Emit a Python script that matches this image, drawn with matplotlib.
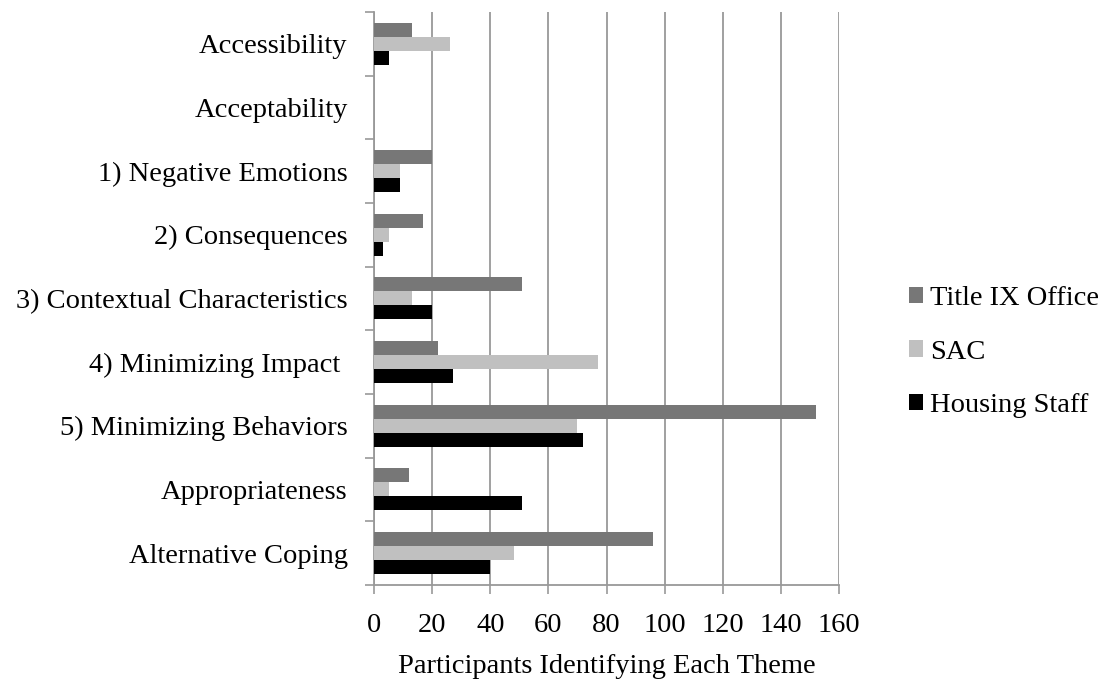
import numpy as np
import matplotlib.pyplot as plt
from matplotlib.patches import Patch

plt.rcParams['font.family'] = ['Liberation Serif', 'DejaVu Serif']

themes = ["Accessibility", "Acceptability", "1) Negative Emotions", "2) Consequences",
          "3) Contextual Characteristics", "4) Minimizing Impact ", "5) Minimizing Behaviors",
          "Appropriateness", "Alternative Coping"]
title_ix = [13, 0, 20, 17, 51, 22, 152, 12, 96]
sac = [26, 0, 9, 5, 13, 77, 70, 5, 48]
housing = [5, 0, 9, 3, 20, 27, 72, 51, 40]

series = [("Title IX Office", title_ix, "#777777"),
          ("SAC", sac, "#c0c0c0"),
          ("Housing Staff", housing, "#000000")]

fs = 20.5
fig = plt.figure(figsize=(11.07, 6.83), dpi=100)
ax = fig.add_axes([0.3379, 0.1435, 0.42, 0.839])

n = len(themes)
pos = np.arange(n)[::-1]  # first theme at the top
h = 0.22
for k, (name, vals, col) in enumerate(series):
    ax.barh(pos + (1 - k) * h, vals, height=h, color=col, linewidth=0, zorder=3)

ax.set_xlim(0, 160)
ax.set_ylim(-0.5, n - 0.5)
ax.set_xticks(np.arange(0, 161, 20))
ax.set_yticks(pos)
ax.set_yticklabels(themes)
ax.set_yticks(np.arange(n + 1) - 0.5, minor=True)
ax.tick_params(axis='y', which='major', length=0, pad=19, labelsize=fs)
ax.tick_params(axis='y', which='minor', length=6.5, width=1.2, color='#999999')
ax.tick_params(axis='x', length=6.5, width=1.2, color='#999999', pad=13.5, labelsize=fs)
ax.grid(axis='x', color='#999999', linewidth=1.3, zorder=0)

for s in ['top', 'right']:
    ax.spines[s].set_visible(False)
for s in ['left', 'bottom']:
    ax.spines[s].set_color('#999999')
    ax.spines[s].set_linewidth(1.3)

ax.set_xlabel("Participants Identifying Each Theme", fontsize=fs, labelpad=12)

handles = [Patch(facecolor=c, edgecolor='none', label=nm) for nm, _, c in series]
fig.legend(handles=handles, loc='center left', bbox_to_anchor=(909 / 1107, 1 - 352 / 683),
           frameon=False, fontsize=fs, handlelength=0.5, handleheight=0.5,
           handletextpad=0.25, labelspacing=1.0, borderpad=0, borderaxespad=0)

fig.savefig("out.png", dpi=100)
